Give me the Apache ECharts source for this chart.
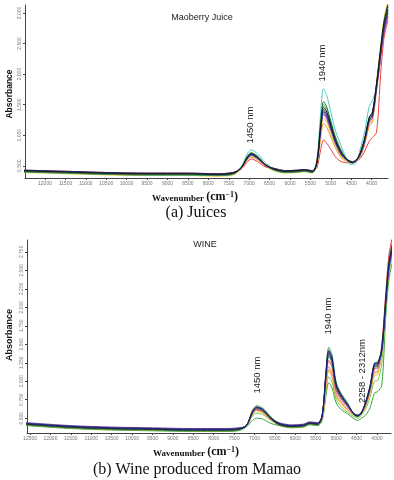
<!DOCTYPE html>
<html>
<head>
<meta charset="utf-8">
<script src="https://cdn.jsdelivr.net/npm/echarts@6/dist/echarts.min.js"></script>
<style>
  html, body { margin: 0; padding: 0; background: #fff; }
  #chart { width: 394px; height: 480px; }
</style>
</head>
<body>
<div id="chart"></div>
<script>
// wavenumbers (cm-1), shared by both panels
const wavenumbers = [12600, 11500, 10500, 9500, 8500, 7800, 7400, 7200, 7050, 6950, 6800, 6600, 6400, 6100, 5800, 5650, 5450, 5340, 5250, 5180, 5100, 5000, 4880, 4720, 4560, 4470, 4380, 4280, 4170, 4060, 3980, 3880, 3780, 3700, 3600]

// (a) juice spectra
const juiceCyan = [0.42, 0.40, 0.38, 0.37, 0.37, 0.36, 0.38, 0.48, 0.69, 0.76, 0.70, 0.55, 0.45, 0.41, 0.42, 0.43, 0.41, 0.61, 1.36, 1.76, 1.65, 1.38, 1.06, 0.78, 0.54, 0.52, 0.55, 0.77, 1.06, 1.47, 1.57, 1.78, 2.31, 2.70, 3.00]
const juiceDarkGreen = [0.41, 0.39, 0.37, 0.36, 0.36, 0.35, 0.37, 0.47, 0.65, 0.71, 0.66, 0.52, 0.44, 0.40, 0.41, 0.42, 0.40, 0.58, 1.21, 1.55, 1.46, 1.23, 0.96, 0.72, 0.57, 0.55, 0.58, 0.71, 0.95, 1.29, 1.38, 1.83, 2.39, 2.80, 3.10]
const juiceGreen = [0.40, 0.38, 0.36, 0.35, 0.35, 0.34, 0.36, 0.47, 0.64, 0.71, 0.65, 0.52, 0.43, 0.39, 0.40, 0.41, 0.39, 0.57, 1.17, 1.50, 1.42, 1.20, 0.93, 0.70, 0.58, 0.56, 0.59, 0.69, 0.92, 1.25, 1.33, 1.80, 2.35, 2.75, 3.05]
const juiceBlack = [0.42, 0.40, 0.38, 0.37, 0.37, 0.36, 0.38, 0.46, 0.63, 0.70, 0.64, 0.52, 0.45, 0.41, 0.42, 0.43, 0.41, 0.56, 1.14, 1.46, 1.38, 1.17, 0.91, 0.69, 0.58, 0.56, 0.59, 0.71, 0.95, 1.29, 1.38, 1.85, 2.43, 2.85, 3.15]
const juiceNavy = [0.43, 0.41, 0.39, 0.38, 0.38, 0.37, 0.39, 0.46, 0.63, 0.69, 0.64, 0.51, 0.46, 0.42, 0.43, 0.44, 0.42, 0.55, 1.12, 1.42, 1.34, 1.14, 0.89, 0.68, 0.57, 0.55, 0.58, 0.69, 0.92, 1.25, 1.33, 1.80, 2.35, 2.75, 3.05]
const juicePurple = [0.41, 0.39, 0.37, 0.36, 0.36, 0.35, 0.37, 0.46, 0.62, 0.68, 0.63, 0.51, 0.44, 0.40, 0.41, 0.42, 0.40, 0.55, 1.09, 1.39, 1.31, 1.11, 0.88, 0.67, 0.59, 0.57, 0.60, 0.68, 0.91, 1.23, 1.31, 1.78, 2.31, 2.70, 3.00]
const juiceBlue = [0.40, 0.38, 0.36, 0.35, 0.35, 0.34, 0.36, 0.46, 0.61, 0.67, 0.62, 0.51, 0.43, 0.39, 0.40, 0.41, 0.39, 0.54, 1.08, 1.37, 1.29, 1.10, 0.86, 0.66, 0.57, 0.55, 0.58, 0.70, 0.93, 1.27, 1.35, 1.83, 2.39, 2.80, 3.10]
const juiceMagenta = [0.42, 0.40, 0.38, 0.37, 0.37, 0.36, 0.38, 0.46, 0.61, 0.67, 0.62, 0.50, 0.45, 0.41, 0.42, 0.43, 0.41, 0.54, 1.06, 1.34, 1.26, 1.08, 0.85, 0.65, 0.58, 0.56, 0.59, 0.67, 0.89, 1.21, 1.28, 1.75, 2.27, 2.65, 2.95]
const juiceYellow = [0.39, 0.37, 0.35, 0.34, 0.34, 0.33, 0.35, 0.45, 0.60, 0.66, 0.61, 0.50, 0.42, 0.38, 0.39, 0.40, 0.38, 0.53, 1.01, 1.28, 1.21, 1.03, 0.82, 0.63, 0.56, 0.54, 0.57, 0.66, 0.88, 1.18, 1.25, 1.88, 2.47, 2.90, 3.20]
const juiceOrange = [0.41, 0.39, 0.37, 0.36, 0.36, 0.35, 0.37, 0.45, 0.59, 0.64, 0.60, 0.49, 0.44, 0.40, 0.41, 0.42, 0.40, 0.51, 0.95, 1.19, 1.13, 0.97, 0.78, 0.61, 0.57, 0.55, 0.58, 0.65, 0.85, 1.14, 1.22, 1.74, 2.25, 2.63, 2.93]
const juiceRed = [0.43, 0.41, 0.39, 0.38, 0.38, 0.37, 0.39, 0.44, 0.56, 0.61, 0.57, 0.48, 0.46, 0.42, 0.43, 0.44, 0.42, 0.47, 0.76, 0.92, 0.87, 0.77, 0.64, 0.56, 0.55, 0.55, 0.57, 0.62, 0.74, 0.90, 0.96, 1.05, 2.00, 2.58, 2.88]

// (b) wine spectra
const wineGreenTop = [0.43, 0.39, 0.37, 0.36, 0.35, 0.35, 0.36, 0.40, 0.61, 0.67, 0.64, 0.52, 0.43, 0.40, 0.41, 0.44, 0.43, 0.55, 1.14, 1.46, 1.36, 0.99, 0.84, 0.71, 0.54, 0.52, 0.56, 0.72, 0.94, 1.25, 1.26, 1.45, 2.14, 2.63, 2.90]
const wineNavy = [0.43, 0.39, 0.37, 0.36, 0.35, 0.35, 0.36, 0.40, 0.59, 0.65, 0.62, 0.51, 0.43, 0.40, 0.41, 0.44, 0.43, 0.55, 1.11, 1.42, 1.32, 0.97, 0.82, 0.69, 0.56, 0.54, 0.58, 0.71, 0.93, 1.24, 1.25, 1.42, 2.10, 2.58, 2.85]
const wineBlack = [0.42, 0.38, 0.36, 0.35, 0.34, 0.34, 0.35, 0.40, 0.59, 0.65, 0.62, 0.50, 0.42, 0.39, 0.40, 0.43, 0.42, 0.54, 1.09, 1.40, 1.30, 0.95, 0.81, 0.69, 0.55, 0.53, 0.57, 0.71, 0.92, 1.23, 1.24, 1.45, 2.14, 2.63, 2.90]
const winePurple = [0.44, 0.40, 0.38, 0.37, 0.36, 0.36, 0.37, 0.40, 0.58, 0.64, 0.61, 0.50, 0.44, 0.41, 0.42, 0.45, 0.44, 0.54, 1.08, 1.38, 1.28, 0.94, 0.80, 0.68, 0.56, 0.54, 0.58, 0.70, 0.91, 1.21, 1.22, 1.42, 2.10, 2.58, 2.85]
const wineBlue = [0.42, 0.38, 0.36, 0.35, 0.34, 0.34, 0.35, 0.40, 0.58, 0.64, 0.61, 0.50, 0.42, 0.39, 0.40, 0.43, 0.42, 0.54, 1.07, 1.36, 1.26, 0.93, 0.79, 0.67, 0.55, 0.53, 0.57, 0.70, 0.91, 1.21, 1.22, 1.40, 2.06, 2.53, 2.80]
const wineDarkGreen = [0.41, 0.37, 0.35, 0.34, 0.33, 0.33, 0.34, 0.40, 0.57, 0.63, 0.60, 0.49, 0.41, 0.38, 0.39, 0.42, 0.41, 0.53, 1.05, 1.34, 1.24, 0.91, 0.78, 0.67, 0.56, 0.54, 0.58, 0.69, 0.90, 1.19, 1.20, 1.42, 2.10, 2.58, 2.85]
const wineRed = [0.42, 0.38, 0.36, 0.35, 0.34, 0.34, 0.35, 0.40, 0.56, 0.62, 0.59, 0.49, 0.42, 0.39, 0.40, 0.43, 0.42, 0.52, 1.01, 1.28, 1.19, 0.88, 0.76, 0.65, 0.55, 0.53, 0.57, 0.68, 0.88, 1.17, 1.18, 1.50, 2.22, 2.73, 3.00]
const winePink = [0.43, 0.39, 0.37, 0.36, 0.35, 0.35, 0.36, 0.40, 0.56, 0.61, 0.59, 0.49, 0.43, 0.40, 0.41, 0.44, 0.43, 0.51, 0.95, 1.20, 1.11, 0.84, 0.73, 0.62, 0.55, 0.53, 0.57, 0.67, 0.86, 1.13, 1.14, 1.47, 2.18, 2.68, 2.95]
const wineOrange = [0.42, 0.38, 0.36, 0.35, 0.34, 0.34, 0.35, 0.40, 0.56, 0.61, 0.58, 0.48, 0.42, 0.39, 0.40, 0.43, 0.42, 0.50, 0.92, 1.16, 1.07, 0.81, 0.71, 0.61, 0.54, 0.52, 0.56, 0.66, 0.85, 1.11, 1.12, 1.40, 2.06, 2.53, 2.80]
const wineYellow = [0.41, 0.37, 0.35, 0.34, 0.33, 0.33, 0.34, 0.40, 0.55, 0.60, 0.57, 0.48, 0.41, 0.38, 0.39, 0.42, 0.41, 0.50, 0.91, 1.14, 1.05, 0.80, 0.70, 0.61, 0.55, 0.53, 0.57, 0.65, 0.83, 1.08, 1.09, 1.42, 2.10, 2.58, 2.85]
const wineLime = [0.41, 0.37, 0.35, 0.34, 0.33, 0.33, 0.34, 0.39, 0.53, 0.57, 0.55, 0.47, 0.41, 0.38, 0.39, 0.42, 0.41, 0.49, 0.85, 1.06, 0.99, 0.76, 0.66, 0.58, 0.52, 0.50, 0.54, 0.62, 0.78, 1.00, 1.01, 1.25, 2.00, 2.48, 2.75]
const wineGreenLow = [0.40, 0.36, 0.34, 0.33, 0.32, 0.32, 0.33, 0.38, 0.47, 0.50, 0.49, 0.43, 0.40, 0.37, 0.38, 0.41, 0.40, 0.47, 0.80, 0.98, 0.91, 0.71, 0.62, 0.56, 0.49, 0.47, 0.50, 0.54, 0.64, 0.84, 0.86, 0.95, 1.90, 2.40, 2.65]

// tick labels
const juiceXTicks = [12000, 11500, 11000, 10500, 10000, 9500, 9000, 8500, 8000, 7500, 7000, 6500, 6000, 5500, 5000, 4500, 4000]
const wineXTicks = [12500, 12000, 11500, 11000, 10500, 10000, 9500, 9000, 8500, 8000, 7500, 7000, 6500, 6000, 5500, 5000, 4500, 4000]
const juiceYTicks = [0.5, 1.0, 1.5, 2.0, 2.5, 3.0]
const wineYTicks = [0.5, 0.75, 1.0, 1.25, 1.5, 1.75, 2.0, 2.25, 2.5, 2.75]

const juiceLines = [
  { data: juiceRed, color: '#e8413c' },
  { data: juiceCyan, color: '#4cc8c8' },
  { data: juiceOrange, color: '#f29030' },
  { data: juiceYellow, color: '#e8d21e' },
  { data: juiceMagenta, color: '#c83cc8' },
  { data: juiceBlue, color: '#2f62d6' },
  { data: juiceGreen, color: '#3cb043' },
  { data: juicePurple, color: '#7a3ea0' },
  { data: juiceDarkGreen, color: '#1e7b32' },
  { data: juiceNavy, color: '#1f2a80' },
  { data: juiceBlack, color: '#151515' }
]
const wineLines = [
  { data: wineGreenLow, color: '#3da33d' },
  { data: wineLime, color: '#7cc84a' },
  { data: wineYellow, color: '#d8cf30' },
  { data: wineOrange, color: '#f0a030' },
  { data: winePink, color: '#f08cb0' },
  { data: wineRed, color: '#e04040' },
  { data: wineGreenTop, color: '#4caf50' },
  { data: wineDarkGreen, color: '#2e7d32' },
  { data: wineBlue, color: '#3060d0' },
  { data: winePurple, color: '#6a3d9a' },
  { data: wineBlack, color: '#222222' },
  { data: wineNavy, color: '#1a237e' }
]

const axisColor = '#444'
const labelColor = '#777'

function makeSeries (lines, idx) {
  return lines.map(l => ({
    type: 'line',
    xAxisIndex: idx,
    yAxisIndex: idx,
    data: wavenumbers.map((w, i) => [w, l.data[i]]),
    showSymbol: false,
    smooth: 0.3,
    silent: true,
    lineStyle: { width: 1, color: l.color },
    itemStyle: { color: l.color }
  }))
}

function xAxisOf (idx, min, max, ticks) {
  return {
    gridIndex: idx,
    type: 'value',
    inverse: true,
    min: min,
    max: max,
    axisLine: { show: true, lineStyle: { color: axisColor, width: 1 } },
    axisTick: { show: true, customValues: ticks, length: 2, lineStyle: { color: axisColor } },
    axisLabel: { customValues: ticks, fontSize: 5, color: labelColor, margin: 3, fontFamily: 'Liberation Sans', formatter: v => String(v) },
    splitLine: { show: false }
  }
}

function yAxisOf (idx, min, max, ticks) {
  return {
    gridIndex: idx,
    type: 'value',
    min: min,
    max: max,
    axisLine: { show: true, lineStyle: { color: axisColor, width: 1 } },
    axisTick: { show: true, customValues: ticks, length: 2, lineStyle: { color: axisColor } },
    axisLabel: {
      customValues: ticks,
      rotate: 90,
      fontSize: 5,
      color: labelColor,
      margin: 3,
      fontFamily: 'Liberation Sans',
      formatter: v => v.toFixed(3)
    },
    splitLine: { show: false }
  }
}

function vText (x, y, text) {
  return {
    type: 'text', x: x, y: y, rotation: Math.PI / 2,
    style: { text: text, fontSize: 9.5, fontFamily: 'Liberation Sans', fill: '#222', align: 'center', verticalAlign: 'middle' }
  }
}

function xTitle (x, y) {
  return {
    type: 'text', x: x, y: y,
    style: {
      text: '{w|Wavenumber }{p|(cm}{s|−1}{p|)}',
      align: 'center',
      verticalAlign: 'middle',
      fill: '#111',
      rich: {
        w: { fontSize: 9, fontWeight: 'bold', fontFamily: 'Liberation Serif', verticalAlign: 'bottom' },
        p: { fontSize: 12, fontWeight: 'bold', fontFamily: 'Liberation Serif', verticalAlign: 'bottom' },
        s: { fontSize: 8, fontWeight: 'bold', fontFamily: 'Liberation Serif', verticalAlign: 'top' }
      }
    }
  }
}

const chart = echarts.init(document.getElementById('chart'), null, { renderer: 'canvas' })
chart.setOption({
  animation: false,
  backgroundColor: '#fff',
  grid: [
    { left: 25, top: 5, width: 363, height: 173 },
    { left: 27, top: 240, width: 364, height: 193 }
  ],
  xAxis: [
    xAxisOf(0, 3600, 12490, juiceXTicks),
    xAxisOf(1, 3655, 12575, wineXTicks)
  ],
  yAxis: [
    yAxisOf(0, 0.3, 3.13, juiceYTicks),
    yAxisOf(1, 0.3, 2.91, wineYTicks)
  ],
  series: makeSeries(juiceLines, 0).concat(makeSeries(wineLines, 1)),
  graphic: [
    { type: 'text', x: 202, y: 18, style: { text: 'Maoberry Juice', fontSize: 9, fontFamily: 'Liberation Sans', fill: '#222', align: 'center', verticalAlign: 'middle' } },
    { type: 'text', x: 205, y: 245, style: { text: 'WINE', fontSize: 9, fontFamily: 'Liberation Sans', fill: '#222', align: 'center', verticalAlign: 'middle' } },
    { type: 'text', x: 10, y: 94, rotation: Math.PI / 2, style: { text: 'Absorbance', fontSize: 8.5, fontWeight: 'bold', fontFamily: 'Liberation Sans', fill: '#111', align: 'center', verticalAlign: 'middle' } },
    { type: 'text', x: 10, y: 335, rotation: Math.PI / 2, style: { text: 'Absorbance', fontSize: 9, fontWeight: 'bold', fontFamily: 'Liberation Sans', fill: '#111', align: 'center', verticalAlign: 'middle' } },
    vText(250, 125, '1450 nm'),
    vText(322, 63, '1940 nm'),
    vText(257, 375, '1450 nm'),
    vText(328, 316, '1940 nm'),
    vText(362, 371, '2258 - 2312nm'),
    xTitle(195, 197),
    xTitle(196, 452),
    { type: 'text', x: 196, y: 213, style: { text: '(a) Juices', fontSize: 16, fontFamily: 'Liberation Serif', fill: '#111', align: 'center', verticalAlign: 'middle' } },
    { type: 'text', x: 197, y: 470, style: { text: '(b) Wine produced from Mamao', fontSize: 16, fontFamily: 'Liberation Serif', fill: '#111', align: 'center', verticalAlign: 'middle' } }
  ]
})
</script>
</body>
</html>
